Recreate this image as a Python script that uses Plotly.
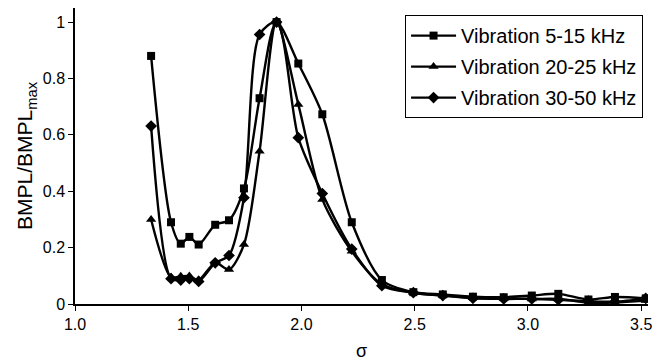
import plotly.graph_objects as go

sigma = [1.336, 1.424, 1.467, 1.505, 1.546, 1.619, 1.68, 1.746, 1.815, 1.89,
         1.986, 2.092, 2.222, 2.355, 2.494, 2.624, 2.757, 2.893, 3.017, 3.134,
         3.267, 3.384, 3.52]

vib_5_15 = [0.88, 0.29, 0.214, 0.238, 0.211, 0.281, 0.297, 0.41, 0.73, 1.0,
            0.853, 0.673, 0.29, 0.085, 0.042, 0.034, 0.026, 0.024, 0.030, 0.036,
            0.016, 0.025, 0.02]
vib_20_25 = [0.30, 0.095, 0.098, 0.099, 0.085, 0.146, 0.122, 0.211, 0.542, 1.0,
             0.708, 0.371, 0.187, 0.07, 0.04, 0.03, 0.022, 0.02, 0.018, 0.018,
             0.005, 0.005, 0.012]
vib_30_50 = [0.631, 0.09, 0.085, 0.09, 0.08, 0.146, 0.172, 0.377, 0.956, 1.0,
             0.59, 0.392, 0.195, 0.065, 0.04, 0.03, 0.02, 0.018, 0.018, 0.015,
             0.01, 0.008, 0.02]

series = [
    ("Vibration 5-15 kHz", vib_5_15, "square", 8),
    ("Vibration 20-25 kHz", vib_20_25, "triangle-up", 9),
    ("Vibration 30-50 kHz", vib_30_50, "diamond", 9),
]

fig = go.Figure()
for i, (name, vals, sym, msize) in enumerate(series):
    fig.add_trace(go.Scatter(
        x=sigma, y=vals, name=name, mode="lines+markers", legendgroup=f"g{i}",
        line=dict(color="black", width=2.4, shape="spline", smoothing=0.8),
        marker=dict(symbol=sym, size=msize, color="black"),
    ))

fig.update_layout(
    width=660, height=364,
    margin=dict(l=75, r=12, t=8, b=60),
    paper_bgcolor="white", plot_bgcolor="white",
    font=dict(family="Liberation Sans, Arial, sans-serif", color="black", size=16),
    showlegend=True,
    legend=dict(
        x=0.576, y=0.976, xanchor="left", yanchor="top",
        bordercolor="black", borderwidth=1, bgcolor="white",
        font=dict(size=20), tracegroupgap=2, itemwidth=45,
        traceorder="grouped",
    ),
)
fig.update_xaxes(
    range=[1.0, 3.53], tickvals=[1.0, 1.5, 2.0, 2.5, 3.0, 3.5], tickformat=".1f",
    showline=True, linecolor="black", linewidth=1.5, ticks="outside", ticklen=5,
    tickcolor="black", showgrid=False, zeroline=False, automargin=False,
    title=dict(text="σ", font=dict(size=18), standoff=12),
)
fig.update_yaxes(
    range=[0, 1.05], tickvals=[0, 0.2, 0.4, 0.6, 0.8, 1.0],
    showline=True, linecolor="black", linewidth=1.5, ticks="outside", ticklen=5,
    tickcolor="black", showgrid=False, zeroline=False, automargin=False,
    title=dict(text="BMPL/BMPL<sub>max</sub>", font=dict(size=21), standoff=4),
)

fig.write_html("out.html", config={"displayModeBar": False},
               post_script="document.body.style.margin='0px';")
